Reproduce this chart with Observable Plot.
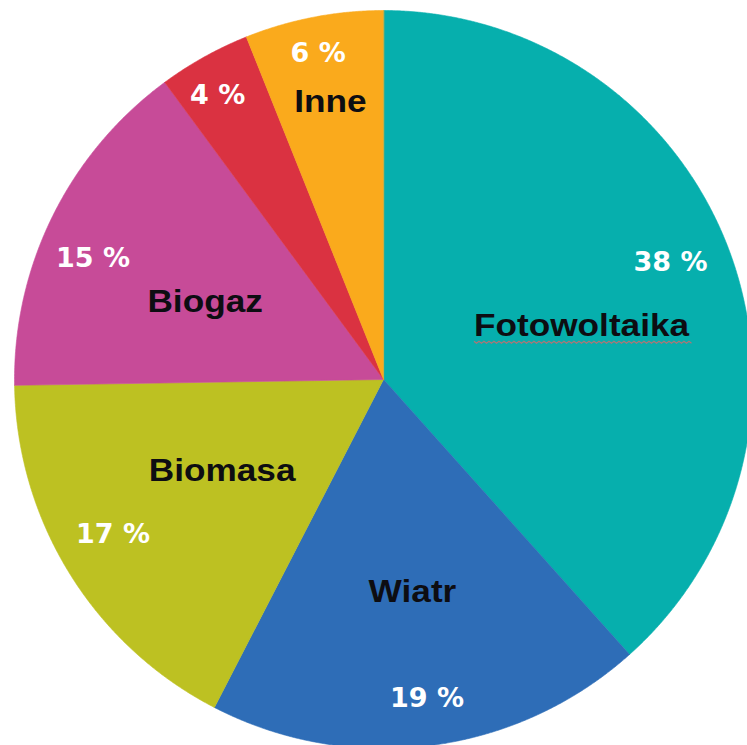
<!DOCTYPE html>
<html><head><meta charset="utf-8">
<script src="https://cdn.jsdelivr.net/npm/d3@7"></script>
<script src="https://cdn.jsdelivr.net/npm/@observablehq/plot@0.6"></script>
<style>html,body{margin:0;padding:0;background:#fff;} #chart svg{display:block}</style>
</head><body><div id="chart"></div>
<script>
// data
const categories = ["Fotowoltaika", "Wiatr", "Biomasa", "Biogaz", "", "Inne"];
const values = [38, 19, 17, 15, 4, 6];
const percentLabels = ["38 %", "19 %", "17 %", "15 %", "4 %", "6 %"];

// styles / layout (kept separate from the data)
const colors = ["#06AFAD", "#2E6DB7", "#BDC122", "#C74B98", "#DA3241", "#FAAA1C"];
const nameRadius = [0.556, 0.58, 0.502, 0.527, 0, 0.766];
const nameAngleOffset = [5.8, -0.5, 2.4, -2.9, 0, 0.1];
const pctRadius = [0.84, 0.873, 0.845, 0.853, 0.891, 0.902];
const pctAngleOffset = [-1.3, -0.5, 2, -3.7, -1.2, -0.4];

const arcs = d3.pie().sort(null).value(d => d)(values);
const deg = Math.PI / 180;

const slicePoints = [];
arcs.forEach((a, i) => {
  slicePoints.push({i, x: 0, y: 0});
  const n = Math.max(2, Math.ceil((a.endAngle - a.startAngle) / 0.004));
  for (let k = 0; k <= n; k++) {
    const t = a.startAngle + (a.endAngle - a.startAngle) * k / n;
    slicePoints.push({i, x: Math.sin(t), y: Math.cos(t)});
  }
});

const nameData = arcs.map((a, i) => {
  const t = (a.startAngle + a.endAngle) / 2 + nameAngleOffset[i] * deg;
  return {text: categories[i], x: nameRadius[i] * Math.sin(t), y: nameRadius[i] * Math.cos(t)};
}).filter(d => d.text);

const pctData = arcs.map((a, i) => {
  const t = (a.startAngle + a.endAngle) / 2 + pctAngleOffset[i] * deg;
  return {text: percentLabels[i], x: pctRadius[i] * Math.sin(t), y: pctRadius[i] * Math.cos(t)};
});

const chart = Plot.plot({
  width: 747,
  height: 745,
  margin: 0,
  style: {background: "#fff", overflow: "hidden"},
  x: {domain: [-1, 1], range: [14, 752], axis: null},
  y: {domain: [-1, 1], range: [748, 10], axis: null},
  color: {type: "ordinal", domain: d3.range(values.length), range: colors},
  marks: [
    Plot.line(slicePoints, {x: "x", y: "y", z: "i", fill: "i", stroke: "i", strokeWidth: 0.6, curve: "linear-closed"}),
    Plot.text(pctData, {x: "x", y: "y", text: "text", fill: "white", fontSize: 27, fontWeight: "bold",
      fontFamily: "DejaVu Sans, Verdana, sans-serif", textAnchor: "middle", lineAnchor: "middle"}),
    Plot.text(nameData, {x: "x", y: "y", text: "text", fill: "#0d0d12", fontSize: 32, fontWeight: "bold",
      fontFamily: "Liberation Sans, Arial, sans-serif", textAnchor: "middle", lineAnchor: "middle"})
  ]
});

document.getElementById("chart").append(chart);

// slightly widen the category labels like the reference, and add the wavy spell-check underline
d3.select(chart).selectAll("text").each(function() {
  const t = this.textContent;
  if (categories.includes(t) && t) {
    const w = this.getComputedTextLength();
    this.setAttribute("textLength", (w * 1.1).toFixed(1));
    this.setAttribute("lengthAdjust", "spacingAndGlyphs");
    if (t === "Fotowoltaika") {
      const b = this.getBBox();
      const y0 = b.y + b.height - 2;
      let dStr = `M${b.x.toFixed(1)},${y0.toFixed(1)}`;
      for (let x = b.x, k = 0; x < b.x + b.width; x += 2.5, k++) {
        dStr += `L${(x + 2.5).toFixed(1)},${(y0 + (k % 2 ? 0 : 2)).toFixed(1)}`;
      }
      const p = d3.select(this.parentNode).append("path")
        .attr("d", dStr).attr("fill", "none").attr("stroke", "#c07070")
        .attr("stroke-width", 1.1).attr("opacity", 0.9);
      const tr = this.getAttribute("transform");
      if (tr) p.attr("transform", tr);
    }
  }
});
</script>
</body></html>
